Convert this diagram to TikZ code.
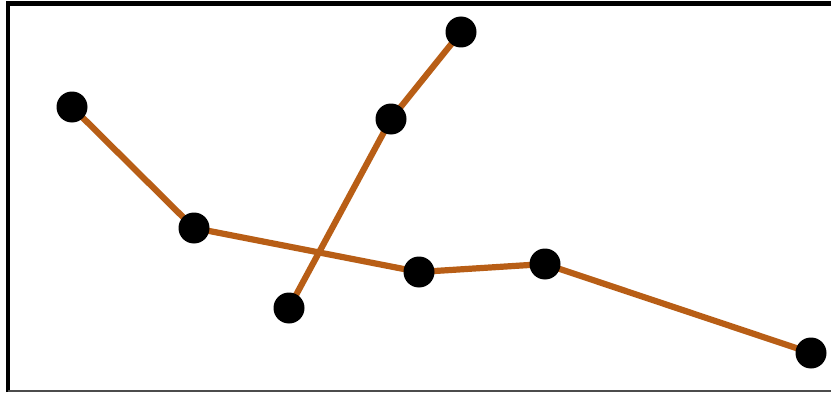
\documentclass[tikz,border=0pt]{standalone}
\definecolor{linkc}{RGB}{184,94,22}
\begin{document}
\begin{tikzpicture}[x=1pt,y=1pt,
  dot/.style={circle,fill=black,inner sep=0pt,minimum size=31pt},
  link/.style={draw=linkc,line width=6.2pt}]
\useasboundingbox (0,0) rectangle (831,392);
\fill[white] (0,0) rectangle (831,392);
% frame
\draw[line width=4.5pt] (8,0) -- (8,388.5) -- (831,388.5);
\draw[line width=2pt,black!70] (8,1) -- (831,1);
% nodes
\coordinate (A) at (72,285);
\coordinate (B) at (194,164);
\coordinate (C) at (419,120);
\coordinate (D) at (545,128);
\coordinate (E) at (811,39);
\coordinate (F) at (289,84);
\coordinate (G) at (391,273);
\coordinate (H) at (461,360);
\draw[link] (A) -- (B) -- (C) -- (D) -- (E);
\draw[link] (F) -- (G) -- (H);
\foreach \p in {A,B,C,D,E,F,G,H}
  \node[dot] (n\p) at (\p) {};
\end{tikzpicture}
\end{document}
